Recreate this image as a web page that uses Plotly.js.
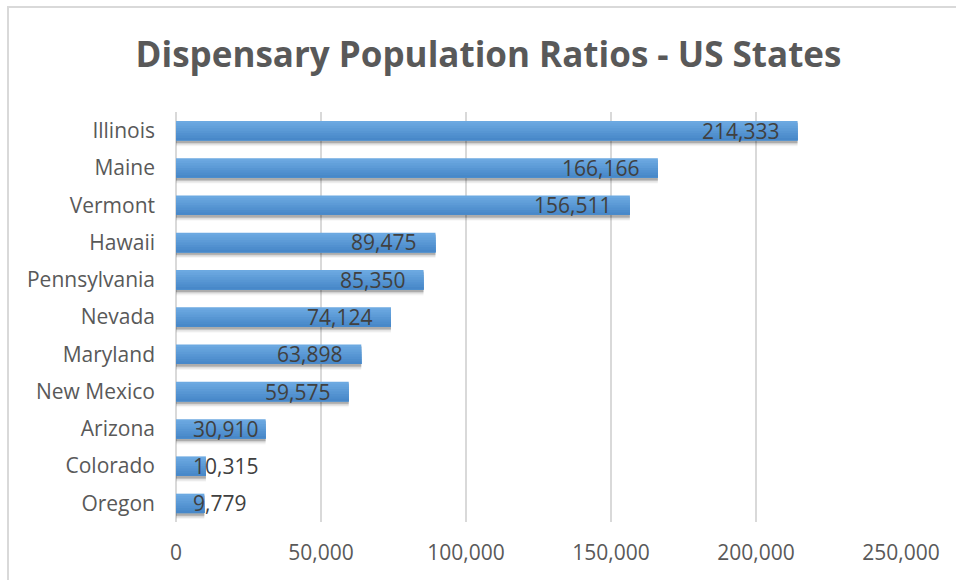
<!DOCTYPE html>
<html><head><meta charset="utf-8">
<script src="https://cdn.plot.ly/plotly-3.0.1.min.js"></script>
<style>
html,body{margin:0;padding:0;background:#fff;overflow:hidden;}
#wrap{position:relative;width:956px;height:580px;}
#frame{position:absolute;left:7px;top:6px;width:1000px;height:1000px;border:2px solid #d9d9d9;box-sizing:border-box;pointer-events:none;z-index:5;}
#chart{position:absolute;left:0;top:0;width:956px;height:580px;}
</style></head>
<body><div id="wrap"><div id="chart"></div><div id="frame"></div></div>
<script>
const states = ["Illinois","Maine","Vermont","Hawaii","Pennsylvania","Nevada","Maryland","New Mexico","Arizona","Colorado","Oregon"];
const ratios = [214333,166166,156511,89475,85350,74124,63898,59575,30910,10315,9779];
const xTickVals = [0,50000,100000,150000,200000,250000];

const FONT = "'Open Sans', 'Liberation Sans', sans-serif";
const W = 0.52;
const xMax = 250000;
const plotW = 956 - 176 - 55;

function bar(width, offset, color, extra){
  return Object.assign({type:'bar', orientation:'h', y:states, x:ratios, width:width, offset:offset,
    marker:{color:color, line:{width:0}}, hoverinfo:'skip', showlegend:false}, extra||{});
}
const traces = [];
// soft drop shadow
[[0.15,0.07],[0.11,0.09],[0.07,0.13],[0.035,0.16]].forEach(([a,d])=>{
  traces.push(bar(W+d-0.04, -W/2+0.04, 'rgba(0,0,0,'+a+')'));
});
// vertical gradient of the bar face: solid base, then stacked bands that each reach the bar bottom
const faceTop = [108,169,225], faceBot = [72,136,201];
const N = 8;
for(let k=0;k<N;k++){
  const t = k/(N-1);
  const c = faceTop.map((v,j)=>Math.round(v+(faceBot[j]-v)*t));
  traces.push(bar(W - k*W/N, -W/2 + k*W/N, 'rgb('+c.join(',')+')'));
}

const cv = document.createElement('canvas').getContext('2d');
cv.font = '21px ' + FONT;
const annotations = states.map((s,i)=>{
  const txt = ratios[i].toLocaleString('en-US');
  const w = cv.measureText(txt).width;
  const endPx = ratios[i]/xMax*plotW;
  const right = endPx - 17 - w >= 16;
  return {x: right ? ratios[i] : 0, y: s, xref:'x', yref:'y', text: txt, showarrow:false,
    xanchor: right ? 'right' : 'left', xshift: right ? -17 : 15, yshift: 0,
    font:{family:FONT, size:21, color:'#404040'}};
});

const layout = {
  width:956, height:580,
  margin:{l:176, r:55, t:112, b:58},
  paper_bgcolor:'#ffffff', plot_bgcolor:'#ffffff',
  barmode:'overlay',
  title:{text:'<b>Dispensary Population Ratios - US States</b>', x:0.511, xref:'container', xanchor:'center',
    y:1-55/580, yref:'container', yanchor:'middle',
    font:{family:FONT, size:35, color:'#595959'}},
  xaxis:{range:[0,xMax], tickvals:xTickVals, tickformat:',d', showgrid:true, gridcolor:'#d9d9d9', gridwidth:1.5,
    zeroline:true, zerolinecolor:'#d9d9d9', zerolinewidth:2, showline:false, ticks:'', ticklabelstandoff:16,
    tickfont:{family:FONT, size:21, color:'#595959'}, fixedrange:true},
  yaxis:{autorange:'reversed', showgrid:false, zeroline:false, showline:false, ticks:'', ticklabelstandoff:20,
    tickfont:{family:FONT, size:21, color:'#595959'}, fixedrange:true},
  annotations: annotations
};
Plotly.newPlot('chart', traces, layout, {displayModeBar:false, staticPlot:true});
</script></body></html>
